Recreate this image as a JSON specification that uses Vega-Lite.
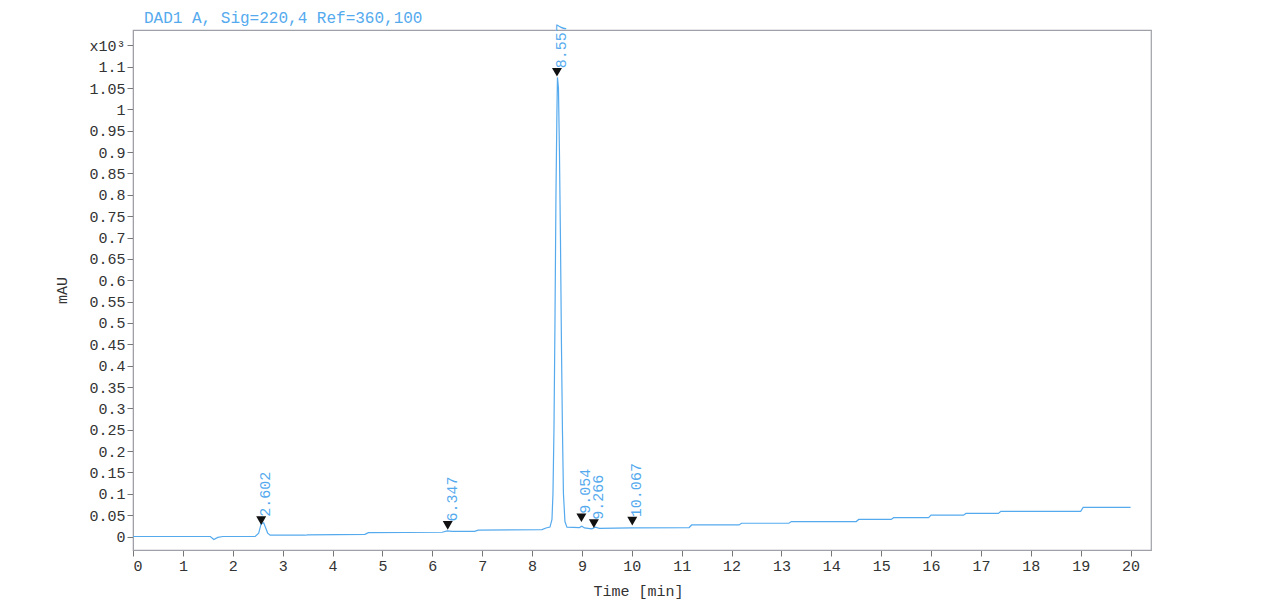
{
  "$schema": "https://vega.github.io/schema/vega-lite/v6.json",
  "width": 1018,
  "height": 520,
  "autosize": {"type": "none"},
  "padding": {"left": 133, "top": 30, "right": 129, "bottom": 53},
  "background": "white",
  "title": {
    "text": "DAD1 A, Sig=220,4 Ref=360,100",
    "anchor": "start",
    "frame": "group",
    "dx": 11,
    "offset": -3,
    "font": "Liberation Mono",
    "fontSize": 16,
    "fontWeight": "normal",
    "color": "#55aaee"
  },
  "datasets": {
    "trace": [
      {"t": 0, "mAU": 0.0},
      {"t": 1.55, "mAU": 0.0},
      {"t": 1.62, "mAU": -0.007},
      {"t": 1.7, "mAU": -0.002},
      {"t": 1.8, "mAU": 0.0},
      {"t": 2.45, "mAU": 0.0},
      {"t": 2.52, "mAU": 0.008},
      {"t": 2.57, "mAU": 0.03},
      {"t": 2.62, "mAU": 0.032},
      {"t": 2.7, "mAU": 0.008},
      {"t": 2.75, "mAU": 0.003},
      {"t": 3.45, "mAU": 0.003},
      {"t": 3.5, "mAU": 0.004},
      {"t": 4.65, "mAU": 0.005},
      {"t": 4.72, "mAU": 0.009},
      {"t": 6.2, "mAU": 0.01},
      {"t": 6.3, "mAU": 0.013},
      {"t": 6.4, "mAU": 0.012},
      {"t": 6.85, "mAU": 0.012},
      {"t": 6.92, "mAU": 0.015},
      {"t": 8.2, "mAU": 0.016},
      {"t": 8.28, "mAU": 0.02},
      {"t": 8.36, "mAU": 0.022},
      {"t": 8.4, "mAU": 0.04},
      {"t": 8.42, "mAU": 0.1},
      {"t": 8.44, "mAU": 0.25},
      {"t": 8.46, "mAU": 0.5},
      {"t": 8.48, "mAU": 0.8},
      {"t": 8.5, "mAU": 1.0},
      {"t": 8.51, "mAU": 1.075},
      {"t": 8.53, "mAU": 1.05},
      {"t": 8.55, "mAU": 0.9},
      {"t": 8.57, "mAU": 0.7},
      {"t": 8.59, "mAU": 0.45},
      {"t": 8.61, "mAU": 0.25},
      {"t": 8.63, "mAU": 0.1},
      {"t": 8.66, "mAU": 0.035},
      {"t": 8.7, "mAU": 0.022},
      {"t": 8.95, "mAU": 0.021},
      {"t": 9.0, "mAU": 0.024},
      {"t": 9.05, "mAU": 0.02},
      {"t": 9.2, "mAU": 0.018},
      {"t": 9.27, "mAU": 0.022},
      {"t": 9.35, "mAU": 0.019},
      {"t": 10.0, "mAU": 0.02},
      {"t": 11.15, "mAU": 0.021},
      {"t": 11.2, "mAU": 0.027},
      {"t": 12.15, "mAU": 0.027},
      {"t": 12.2, "mAU": 0.031},
      {"t": 13.15, "mAU": 0.031},
      {"t": 13.2, "mAU": 0.035},
      {"t": 14.5, "mAU": 0.035},
      {"t": 14.55, "mAU": 0.04},
      {"t": 15.2, "mAU": 0.04},
      {"t": 15.25, "mAU": 0.044},
      {"t": 15.95, "mAU": 0.044},
      {"t": 16.0, "mAU": 0.05},
      {"t": 16.65, "mAU": 0.05},
      {"t": 16.7, "mAU": 0.054},
      {"t": 17.35, "mAU": 0.054},
      {"t": 17.4, "mAU": 0.059},
      {"t": 19.0, "mAU": 0.059},
      {"t": 19.05, "mAU": 0.068},
      {"t": 20.0, "mAU": 0.068}
    ],
    "peaks": [
      {"t": 2.57, "mAU": 0.037, "label": "2.602"},
      {"t": 6.31, "mAU": 0.026, "label": "6.347"},
      {"t": 8.5, "mAU": 1.087, "label": "8.557"},
      {"t": 8.99, "mAU": 0.044, "label": "9.054"},
      {"t": 9.24, "mAU": 0.03, "label": "9.266"},
      {"t": 10.01, "mAU": 0.036, "label": "10.067"}
    ]
  },
  "encoding": {
    "x": {
      "field": "t",
      "type": "quantitative",
      "title": "Time [min]",
      "scale": {"domain": [0, 20.41], "nice": false, "zero": false},
      "axis": {
        "values": [0, 1, 2, 3, 4, 5, 6, 7, 8, 9, 10, 11, 12, 13, 14, 15, 16, 17, 18, 19, 20],
        "format": "d",
        "grid": false,
        "titleX": 505,
        "titleY": 40,
        "titleBaseline": "middle"
      }
    },
    "y": {
      "field": "mAU",
      "type": "quantitative",
      "title": "mAU",
      "scale": {"domain": [-0.0316, 1.186], "nice": false, "zero": false},
      "axis": {
        "values": [0, 0.05, 0.1, 0.15, 0.2, 0.25, 0.3, 0.35, 0.4, 0.45, 0.5, 0.55, 0.6, 0.65, 0.7, 0.75, 0.8, 0.85, 0.9, 0.95, 1, 1.05, 1.1, 1.15],
        "labelExpr": "datum.value > 1.12 ? 'x10³' : format(datum.value, '.2~f')",
        "grid": false,
        "titleX": -72,
        "titleY": 260,
        "titleAlign": "center",
        "titleBaseline": "middle"
      }
    }
  },
  "layer": [
    {
      "data": {"name": "trace"},
      "mark": {"type": "line", "color": "#55aaee", "strokeWidth": 1.2, "clip": true}
    },
    {
      "data": {"name": "peaks"},
      "mark": {"type": "point", "shape": "triangle-down", "filled": true, "color": "#111111", "size": 100, "opacity": 1}
    },
    {
      "data": {"name": "peaks"},
      "mark": {
        "type": "text",
        "angle": 270,
        "align": "left",
        "baseline": "middle",
        "dx": 4,
        "dy": 4,
        "font": "Liberation Mono",
        "fontSize": 15,
        "color": "#55aaee"
      },
      "encoding": {"text": {"field": "label"}}
    }
  ],
  "config": {
    "view": {"stroke": "#a0a0a8", "strokeWidth": 1.2},
    "axis": {
      "domainColor": "#a0a0a8",
      "tickColor": "#777777",
      "tickSize": 6,
      "labelPadding": 2,
      "labelFont": "Liberation Mono",
      "labelFontSize": 15,
      "labelColor": "#333333",
      "titleFont": "Liberation Mono",
      "titleFontSize": 15,
      "titleFontWeight": "normal",
      "titleColor": "#333333"
    }
  }
}
